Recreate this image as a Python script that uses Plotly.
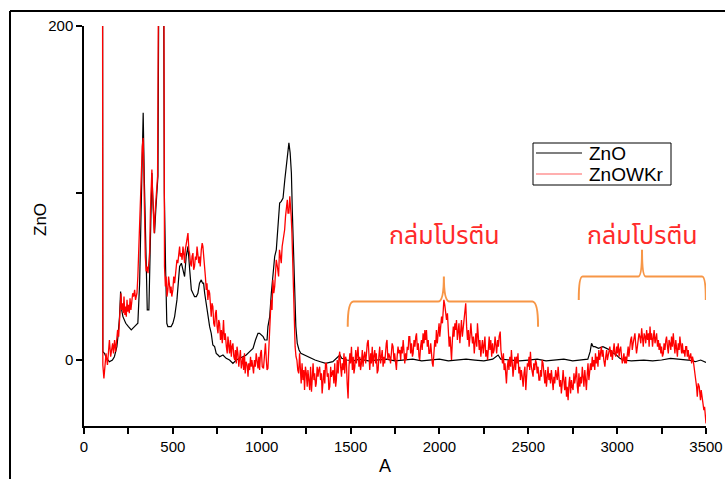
import plotly.graph_objects as go

# ---------------- data ----------------
zno_pts = [
    (100, 900), (106, 5), (115, 4), (127, 1), (143, -1), (160, 0), (171, 2), (185, 8), (191, 14),
    (200, 26), (206, 41), (212, 30), (219, 26), (235, 22), (250, 20), (266, 18), (284, 20), (303, 22),
    (313, 46), (318, 75), (322, 106), (328, 130), (333, 148), (339, 110), (345, 76), (350, 45),
    (356, 30), (365, 30), (370, 50), (375, 76), (382, 112), (388, 95), (397, 76), (404, 90),
    (410, 104), (416, 110), (422, 250), (428, 800), (440, 800), (446, 300), (452, 100), (459, 56),
    (466, 22), (472, 20), (490, 20), (500, 22), (510, 26), (523, 36), (530, 45), (538, 56),
    (548, 58), (557, 54), (566, 50), (575, 62), (585, 68), (594, 55), (604, 42), (613, 40),
    (622, 38), (632, 38), (641, 40), (650, 46), (660, 48), (667, 46), (673, 46), (679, 40),
    (688, 33), (697, 28), (707, 20), (716, 16), (725, 9), (735, 8), (744, 4), (754, 3), (763, 2),
    (782, 3), (800, 1), (819, 0), (838, -2), (857, 0), (875, 1), (894, 2), (913, 3), (932, 5),
    (941, 6), (951, 7), (965, 12), (979, 16), (988, 16), (998, 15), (1008, 14), (1017, 12),
    (1030, 12), (1035, 20), (1045, 26), (1054, 40), (1063, 52), (1073, 62), (1082, 66), (1092, 82),
    (1101, 94), (1110, 95), (1120, 97), (1130, 108), (1139, 116), (1146, 124), (1153, 130),
    (1160, 124), (1167, 112), (1172, 90), (1178, 66), (1185, 40), (1192, 20), (1200, 10),
    (1210, 6), (1220, 4), (1240, 3), (1260, 2), (1280, 1), (1300, 0), (1330, -1), (1360, -2),
    (1400, -1), (1440, 3), (1450, 1), (1480, 0), (1515, -0.5), (1550, 0.5), (1600, -0.5),
    (1650, 0), (1700, 0.5), (1750, -0.5), (1800, 0), (1850, 0.5), (1900, -0.5), (1950, 0),
    (2000, 0.5), (2050, -0.5), (2100, 0), (2150, 0.5), (2200, 0), (2250, -0.5), (2300, 0.5),
    (2330, 3), (2345, 0.5), (2400, 0), (2450, -0.5), (2500, 0), (2550, 0.5), (2600, -0.5),
    (2650, 0), (2700, 0.5), (2750, -0.5), (2800, 0), (2835, 0.5), (2848, 5), (2856, 10),
    (2865, 8), (2875, 8), (2895, 7), (2920, 8), (2940, 7), (2959, 6), (2980, 4), (2996, 3),
    (3015, 1), (3033, 0), (3080, -0.5), (3150, 0), (3200, -0.5), (3250, 0), (3300, 1),
    (3340, 0.5), (3400, 0), (3440, -1), (3470, 0), (3500, -1.5),
]

wkr_pts = [
    (100, 900), (106, -3), (112, -11), (118, -5), (124, 4), (132, -3), (138, 8), (143, 12),
    (150, 2), (155, 6), (161, 10), (166, 4), (172, 12), (178, 5), (184, 14), (189, 18), (195, 14),
    (200, 22), (205, 30), (208, 40), (212, 30), (217, 34), (221, 28), (225, 38), (230, 27),
    (234, 32), (238, 26), (242, 36), (246, 29), (251, 33), (255, 28), (259, 37), (264, 30),
    (268, 33), (274, 40), (279, 38), (285, 42), (290, 36), (298, 40), (303, 50), (307, 62),
    (311, 80), (315, 95), (320, 112), (324, 122), (328, 128), (333, 133), (337, 110), (341, 80),
    (345, 62), (350, 53), (355, 56), (360, 52), (365, 60), (369, 64), (374, 90), (378, 105),
    (382, 114), (386, 100), (390, 88), (395, 76), (400, 88), (404, 95), (408, 100), (414, 110),
    (420, 250), (426, 800), (442, 800), (448, 300), (453, 56), (458, 44), (462, 50), (467, 38),
    (472, 42), (476, 50), (481, 46), (486, 40), (490, 44), (494, 38), (500, 42), (505, 50),
    (510, 46), (515, 52), (519, 55), (523, 60), (528, 58), (533, 66), (538, 68), (542, 62),
    (547, 64), (552, 60), (557, 68), (561, 64), (566, 58), (570, 66), (575, 70), (580, 72),
    (585, 76), (590, 66), (594, 64), (599, 58), (604, 56), (608, 62), (613, 64), (617, 54),
    (622, 56), (627, 62), (632, 60), (636, 68), (641, 64), (646, 58), (650, 62), (654, 56),
    (660, 66), (665, 70), (669, 68), (674, 62), (679, 58), (683, 50), (688, 42), (692, 46),
    (697, 36), (702, 42), (707, 40), (711, 30), (716, 26), (720, 34), (725, 32), (730, 22),
    (735, 20), (740, 28), (744, 30), (749, 20), (754, 16), (758, 24), (763, 22), (768, 12),
    (773, 18), (778, 10), (782, 20), (785, 24), (790, 12), (795, 16), (801, 8), (806, 4),
    (810, 14), (815, 8), (819, 4), (824, 12), (829, 2), (833, 8), (838, 10), (843, 2), (848, 0),
    (852, 6), (857, -2), (861, 8), (866, 4), (871, -4), (875, 2), (880, 6), (885, -5), (889, 0),
    (894, 2), (898, -6), (903, 4), (907, -8), (912, -1), (918, -3), (923, -10), (927, -2),
    (932, -6), (937, 2), (941, -4), (945, 0), (950, -6), (954, -8), (959, 0), (964, -4), (969, 4),
    (974, -2), (979, -5), (984, 2), (988, -6), (993, 4), (998, 6), (1003, -4), (1010, -5),
    (1015, 2), (1021, 10), (1026, 0), (1030, -6), (1035, -5), (1040, 10), (1045, 24), (1050, 30),
    (1054, 36), (1058, 30), (1063, 48), (1068, 40), (1073, 44), (1078, 52), (1082, 60),
    (1088, 56), (1095, 50), (1100, 66), (1105, 60), (1110, 58), (1115, 68), (1120, 72),
    (1125, 74), (1129, 78), (1134, 86), (1139, 92), (1144, 96), (1148, 88), (1153, 88),
    (1158, 98), (1162, 94), (1166, 86), (1170, 76), (1175, 56), (1179, 36), (1184, 20), (1188, 8),
    (1193, 2), (1198, 0), (1203, -6), (1208, -8), (1213, 4), (1218, -10), (1222, -14), (1227, -2),
    (1232, -12), (1237, -6), (1241, -18), (1246, -4), (1251, -8), (1256, -16), (1260, -6),
    (1265, -12), (1270, -18), (1275, -4), (1280, -19), (1285, -10), (1289, -2), (1294, -12),
    (1298, -8), (1303, -16), (1307, -14), (1312, -4), (1317, -10), (1321, -6), (1326, -4),
    (1331, -12), (1336, -8), (1340, -20), (1345, -12), (1350, -6), (1355, -14), (1359, -2),
    (1364, -2), (1369, -10), (1374, -8), (1378, -18), (1383, -16), (1388, -4), (1392, -10),
    (1397, -8), (1401, -6), (1406, -14), (1411, -2), (1416, -16), (1420, -12), (1425, 0),
    (1430, -8), (1435, 2), (1439, 5), (1444, -4), (1449, -10), (1453, -2), (1458, -6), (1463, 4),
    (1467, -8), (1472, 2), (1476, 0), (1481, -14), (1486, -23), (1491, -4), (1496, 4), (1500, -2),
    (1505, 8), (1510, -6), (1515, 2), (1519, -8), (1524, -4), (1529, 6), (1533, -2), (1538, 4),
    (1542, 8), (1547, -4), (1552, 2), (1556, -6), (1561, -2), (1566, 6), (1570, -4), (1575, 2),
    (1580, 5), (1585, -2), (1589, 4), (1594, 10), (1599, 12), (1603, 2), (1608, -6), (1613, 4),
    (1617, -2), (1622, 8), (1627, -4), (1631, 2), (1636, 6), (1641, -2), (1645, 4), (1650, -8),
    (1655, -6), (1659, 2), (1664, 8), (1669, -2), (1674, 3), (1678, 6), (1683, -4), (1688, 2),
    (1692, -2), (1697, 6), (1701, 10), (1705, 12), (1710, 0), (1715, 4), (1720, 2), (1725, -2),
    (1729, 6), (1734, 10), (1739, 8), (1744, 0), (1748, 4), (1753, -4), (1758, -6), (1762, 2),
    (1767, 8), (1772, 4), (1777, 6), (1782, 0), (1786, 8), (1791, 4), (1796, 12), (1800, 6),
    (1805, -2), (1810, 4), (1814, 0), (1819, 8), (1824, 6), (1828, 14), (1833, 14), (1838, 4),
    (1843, 10), (1848, 2), (1852, 4), (1857, 12), (1862, 8), (1867, 14), (1871, 16), (1876, 6),
    (1881, 10), (1885, 2), (1889, 0), (1894, 8), (1899, 12), (1903, 6), (1908, 16), (1913, 10),
    (1918, 18), (1922, 12), (1927, 18), (1932, 8), (1937, 12), (1941, 4), (1946, 4), (1951, 10),
    (1955, 0), (1960, -2), (1964, -4), (1969, 6), (1974, 12), (1979, 8), (1983, 18), (1988, 10),
    (1993, 16), (1998, 22), (2002, 14), (2007, 20), (2012, 26), (2017, 22), (2021, 30),
    (2025, 36), (2030, 33), (2035, 26), (2040, 24), (2045, 28), (2049, 18), (2055, 8), (2060, 14),
    (2064, 4), (2068, 0), (2073, 12), (2078, 20), (2082, 14), (2087, 22), (2092, 18), (2096, 24),
    (2101, 12), (2105, 16), (2110, 22), (2115, 10), (2119, 18), (2124, 24), (2129, 14),
    (2134, 20), (2138, 26), (2143, 30), (2148, 34), (2153, 20), (2158, 12), (2163, 18), (2167, 8),
    (2172, 14), (2177, 22), (2181, 16), (2186, 10), (2191, 14), (2196, 4), (2200, 10), (2205, 16),
    (2210, 8), (2214, 22), (2219, 14), (2224, 6), (2228, 12), (2233, 2), (2238, 8), (2242, 12),
    (2247, 4), (2252, 8), (2256, 14), (2261, 2), (2266, 6), (2271, 0), (2275, 8), (2280, 14),
    (2284, 6), (2289, 12), (2294, 2), (2299, 10), (2303, 4), (2308, 6), (2313, 14), (2317, 8),
    (2322, 4), (2327, 12), (2332, 8), (2336, 14), (2342, 17), (2346, 6), (2350, 2), (2355, -2),
    (2360, 4), (2364, -6), (2369, -2), (2373, -10), (2377, -14), (2382, -4), (2387, 0),
    (2391, -6), (2396, 2), (2401, -4), (2405, 6), (2410, -2), (2414, -10), (2419, -4), (2424, 2),
    (2428, -6), (2433, 2), (2438, -2), (2442, 4), (2447, -8), (2452, -4), (2456, -12), (2461, -6),
    (2466, -10), (2471, -16), (2476, -8), (2481, -4), (2486, -18), (2490, -10), (2495, -2),
    (2499, -4), (2504, 2), (2508, -6), (2512, 5), (2517, -4), (2522, -8), (2527, -10), (2531, -2),
    (2536, -6), (2541, 0), (2546, -2), (2550, -8), (2555, -4), (2560, -12), (2565, -12),
    (2569, -6), (2574, -10), (2578, 0), (2583, -2), (2588, -8), (2593, -14), (2597, -6),
    (2602, -16), (2607, -10), (2611, -4), (2616, -12), (2621, -8), (2625, -14), (2630, -6),
    (2635, -12), (2640, -18), (2644, -10), (2649, -14), (2654, -6), (2658, -8), (2663, -12),
    (2668, -4), (2672, -10), (2677, -16), (2682, -12), (2686, -20), (2691, -14), (2696, -6),
    (2700, -12), (2705, -18), (2710, -10), (2715, -22), (2719, -16), (2724, -24), (2729, -14),
    (2733, -10), (2738, -20), (2743, -12), (2747, -16), (2752, -18), (2757, -8), (2761, -14),
    (2766, -10), (2771, -4), (2776, -16), (2780, -20), (2785, -8), (2790, -16), (2795, -10),
    (2799, -14), (2804, -4), (2808, -10), (2813, -16), (2818, -6), (2822, -12), (2827, -18),
    (2832, -8), (2836, -2), (2841, -12), (2846, -8), (2850, -2), (2855, -6), (2860, 2), (2864, -4),
    (2869, 0), (2874, -6), (2878, 4), (2883, -2), (2888, 2), (2892, -4), (2897, 6), (2902, 0),
    (2906, 4), (2911, 8), (2916, 2), (2920, 6), (2925, 0), (2931, -4), (2936, 2), (2941, 6),
    (2945, 0), (2950, 4), (2955, 8), (2959, 8), (2964, 2), (2969, 6), (2973, 0), (2978, 4),
    (2983, 10), (2987, 4), (2992, 2), (2997, 8), (3001, 4), (3006, 10), (3011, 2), (3015, 6),
    (3020, 8), (3025, 2), (3029, -2), (3033, 0), (3038, 4), (3043, -2), (3048, 2), (3052, -2),
    (3057, 4), (3062, 8), (3066, 2), (3071, 10), (3076, 12), (3081, 14), (3085, 6), (3090, 10),
    (3095, 14), (3100, 16), (3104, 10), (3109, 4), (3114, 8), (3119, 12), (3123, 16), (3128, 14),
    (3133, 10), (3138, 19), (3143, 12), (3147, 8), (3152, 16), (3157, 14), (3161, 10), (3166, 18),
    (3171, 12), (3176, 16), (3180, 8), (3185, 20), (3190, 12), (3194, 16), (3199, 8), (3203, 13),
    (3208, 18), (3213, 10), (3218, 14), (3222, 16), (3227, 8), (3232, 12), (3236, 6), (3241, 10),
    (3246, 4), (3250, 8), (3255, 2), (3260, 4), (3264, 10), (3269, 6), (3274, 12), (3278, 14),
    (3283, 8), (3288, 4), (3292, 12), (3297, 10), (3302, 6), (3306, 14), (3311, 8), (3316, 16),
    (3320, 10), (3325, 4), (3330, 12), (3335, 8), (3339, 2), (3344, 10), (3349, 6), (3353, 14),
    (3358, 8), (3363, 4), (3367, 10), (3372, 4), (3377, 6), (3381, 2), (3386, 8), (3391, 8),
    (3395, 2), (3400, 6), (3405, 0), (3410, 2), (3414, 4), (3419, -2), (3424, 2), (3428, 0),
    (3433, -4), (3438, -6), (3443, -12), (3447, -16), (3451, -22), (3456, -14), (3462, -16),
    (3466, -20), (3469, -24), (3473, -18), (3477, -22), (3480, -22), (3484, -26), (3488, -30),
    (3492, -28), (3496, -36), (3500, -38),
]

series_names = ["ZnO", "ZnOWKr"]
x_tick_vals = [0, 250, 500, 750, 1000, 1250, 1500, 1750, 2000, 2250, 2500, 2750, 3000, 3250, 3500]
x_tick_text = ["0", "", "500", "", "1000", "", "1500", "", "2000", "", "2500", "", "3000", "", "3500"]
y_tick_vals = [0, 100, 200]
y_tick_text = ["0", "", "200"]
x_title = "A"
y_title = "ZnO"
label_text = "กล่มโปรตีน"
# annotation brackets: (left x, spike x, right x, end y, bar y, spike y)
brackets = [(1484, 2025, 2555, 20, 35, 50), (2784, 3140, 3499, 36, 50, 66)]
label_pos = [(2030, 74), (3140, 74)]

# ---------------- layout geometry ----------------
W, H = 725, 479
ML, MR, MT, MB = 84, 19, 26, 53
PW, PH = W - ML - MR, H - MT - MB


def px(xpix):
    return (xpix - ML) / PW


def py(ypix):
    return (H - MB - ypix) / PH


# ---------------- figure ----------------
fig = go.Figure()
colors = ["#000000", "#ff0000"]
for name, pts, col, w in zip(series_names, [zno_pts, wkr_pts], colors, [1.2, 1.3]):
    fig.add_trace(go.Scatter(
        x=[p[0] for p in pts], y=[p[1] for p in pts], mode="lines", name=name,
        line=dict(color=col, width=w), showlegend=False,
    ))

axis_font = dict(family="Liberation Sans, Arial, sans-serif", size=15, color="black")
common = dict(showline=True, linecolor="black", linewidth=1.5, mirror=False, showgrid=False,
              zeroline=False, ticks="outside", ticklen=6, tickwidth=1.5, tickcolor="black",
              tickfont=axis_font, automargin=False)
fig.update_xaxes(range=[0, 3500], tickvals=x_tick_vals, ticktext=x_tick_text, **common)
fig.update_yaxes(range=[-39.5, 200], tickvals=y_tick_vals, ticktext=y_tick_text, **common)

shapes = []
for (xl, xs, xr, ye, yb, ys) in brackets:
    dx = (xr - xl) * 0.03
    path = (f"M {xl},{ye} Q {xl},{yb} {xl+dx},{yb} L {xs-dx},{yb} Q {xs},{yb} {xs},{ys} "
            f"Q {xs},{yb} {xs+dx},{yb} L {xr-dx},{yb} Q {xr},{yb} {xr},{ye}")
    shapes.append(dict(type="path", xref="x", yref="y", path=path,
                       line=dict(color="#f79646", width=2)))
# outer frame (partially cropped in the reference)
shapes.append(dict(type="line", xref="paper", yref="paper", x0=px(10), x1=px(10), y0=py(11), y1=py(490),
                   line=dict(color="black", width=2)))
shapes.append(dict(type="line", xref="paper", yref="paper", x0=px(10), x1=px(740), y0=py(11), y1=py(11),
                   line=dict(color="black", width=2)))

annotations = []
for (ax, ay) in label_pos:
    annotations.append(dict(x=ax, y=ay, xref="x", yref="y", text=label_text, showarrow=False,
                            font=dict(family="Noto Sans Thai, Tahoma, sans-serif", size=25, color="#ff2a2a")))
# axis titles
title_font = dict(family="Liberation Sans, Arial, sans-serif", size=17, color="black")
annotations.append(dict(x=px(40), y=py(220), xref="paper", yref="paper", text=y_title, textangle=-90,
                        showarrow=False, font=title_font, xanchor="center", yanchor="middle"))
annotations.append(dict(x=px(385), y=py(466), xref="paper", yref="paper", text=x_title,
                        showarrow=False, font=dict(title_font, size=18), xanchor="center", yanchor="middle"))

# legend box (drawn as in the reference: long line samples)
legend_font = dict(family="Liberation Sans, Arial, sans-serif", size=19, color="black")
shapes.append(dict(type="rect", xref="paper", yref="paper", x0=px(533), x1=px(671), y0=py(143), y1=py(185),
                   line=dict(color="black", width=1), fillcolor="white", layer="above"))
for i, (name, col) in enumerate(zip(series_names, ["#000000", "#ff6060"])):
    ypix = 153 + 21 * i
    shapes.append(dict(type="line", xref="paper", yref="paper", x0=px(536), x1=px(582), y0=py(ypix), y1=py(ypix),
                       line=dict(color=col, width=1.2), layer="above"))
    annotations.append(dict(x=px(587), y=py(ypix), xref="paper", yref="paper", text=name, showarrow=False,
                            font=legend_font, xanchor="left", yanchor="middle"))

fig.update_layout(
    width=W, height=H, margin=dict(l=ML, r=MR, t=MT, b=MB),
    paper_bgcolor="white", plot_bgcolor="white",
    shapes=shapes, annotations=annotations, showlegend=False,
)

fig.write_html("out.html")
